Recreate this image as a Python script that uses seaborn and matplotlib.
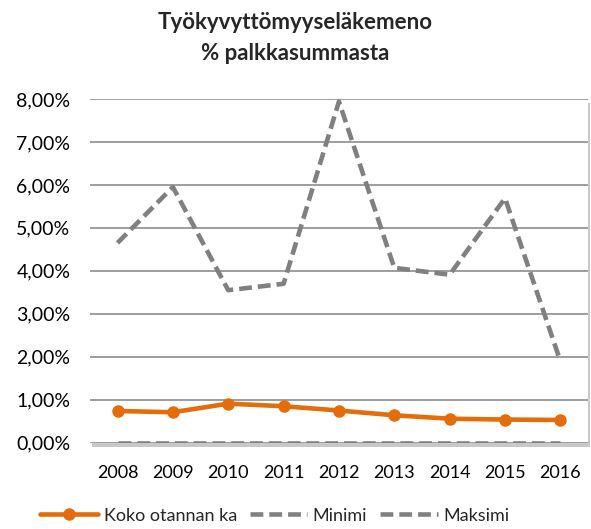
import numpy as np
import pandas as pd
import seaborn as sns
import matplotlib.pyplot as plt
from matplotlib.patches import Rectangle
from matplotlib.ticker import FuncFormatter

years = [2008, 2009, 2010, 2011, 2012, 2013, 2014, 2015, 2016]
koko_ka = [0.74, 0.71, 0.91, 0.85, 0.75, 0.64, 0.56, 0.54, 0.53]
minimi = [0.0, 0.0, 0.0, 0.0, 0.0, 0.0, 0.0, 0.0, 0.0]
maksimi = [4.65, 5.95, 3.55, 3.70, 7.94, 4.07, 3.91, 5.69, 1.90]

sns.set_theme(style="white")
plt.rcParams['font.family'] = ['Lato', 'DejaVu Sans']

orange = '#E46C0A'
grey = '#808080'
dash = (0, (2.8, 1.3))

fig = plt.figure(figsize=(5.91, 5.29), dpi=100)
ax = fig.add_axes([0.152, 0.163, 0.843, 0.65])
ax.set_zorder(2)

# Excel-like drop shadow behind plot area
shadow = Rectangle((0.152 + 0.004, 0.163 - 0.008), 0.843, 0.65,
                   transform=fig.transFigure, facecolor='#c8c8c8',
                   edgecolor='none', zorder=-1)
fig.patches.append(shadow)
ax.set_facecolor('white')

for yv in np.arange(0, 9, 1):
    ax.axhline(yv, color='#8c8c8c', lw=1.2, zorder=1)

sns.lineplot(x=years, y=koko_ka, ax=ax, color=orange, lw=3.3, marker='o',
             markersize=10.5, markeredgewidth=0, label='Koko otannan ka', zorder=3)
sns.lineplot(x=years, y=minimi, ax=ax, color=grey, lw=3.3,
             label='Minimi', zorder=2)
sns.lineplot(x=years, y=maksimi, ax=ax, color=grey, lw=3.3,
             label='Maksimi', zorder=2)
for ln in ax.lines[-2:]:
    ln.set_linestyle(dash)

ax.set_xlim(2007.5, 2016.5)
ax.set_ylim(0, 8)
ax.set_xticks(years)
ax.set_xticklabels([str(y) for y in years])
ax.set_yticks(range(0, 9))
ax.yaxis.set_major_formatter(FuncFormatter(lambda v, p: f"{v:.2f}%".replace('.', ',')))
ax.tick_params(axis='y', labelsize=14, pad=14, length=0, colors='black')
ax.tick_params(axis='x', labelsize=13, pad=16, length=0, colors='black')
for s in ax.spines.values():
    s.set_visible(False)

fig.suptitle('Työkyvyttömyyseläkemeno\n% palkkasummasta', fontsize=16,
             fontweight='bold', x=0.5, y=0.978, linespacing=1.6)

handles, labels = ax.get_legend_handles_labels()
for h in handles[1:]:
    h.set_linestyle(dash)
handles[0].set_markersize(9)
ax.legend_.remove()
fig.legend(handles, labels, loc='center', bbox_to_anchor=(0.465, 0.025), ncol=3,
           frameon=False, fontsize=13, handlelength=3.2, columnspacing=0.7,
           handletextpad=0.3)

fig.savefig('out.png', dpi=100)
